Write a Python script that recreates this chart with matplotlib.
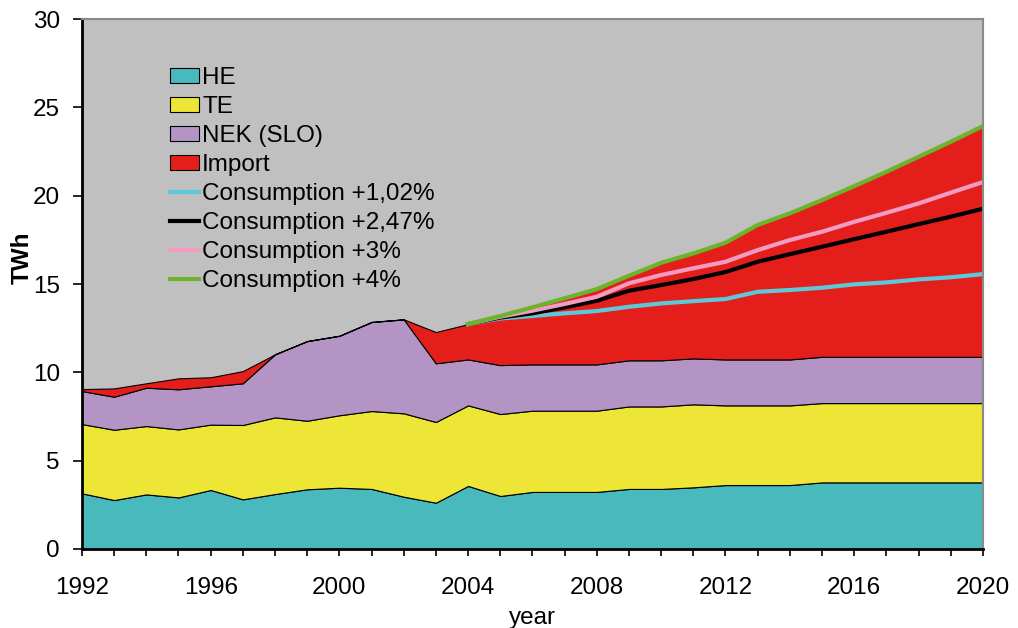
import matplotlib
matplotlib.use("Agg")
import matplotlib.pyplot as plt
import numpy as np

plt.rcParams['font.family'] = ['Liberation Sans', 'DejaVu Sans']

# data (TWh)
years = list(range(1992, 2021))
he = [3.15, 2.77, 3.09, 2.92, 3.34, 2.81, 3.11, 3.38, 3.47, 3.40, 2.96, 2.62, 3.57, 3.00, 3.23,
      3.23, 3.23, 3.40, 3.40, 3.49, 3.62, 3.62, 3.62, 3.77, 3.77, 3.77, 3.77, 3.77, 3.77]
te = [3.92, 3.98, 3.87, 3.85, 3.70, 4.21, 4.34, 3.88, 4.10, 4.41, 4.72, 4.57, 4.56, 4.64, 4.60,
      4.60, 4.60, 4.67, 4.67, 4.70, 4.51, 4.51, 4.51, 4.49, 4.49, 4.49, 4.49, 4.49, 4.49]
nek = [1.87, 1.87, 2.17, 2.27, 2.17, 2.36, 3.57, 4.51, 4.50, 5.04, 5.32, 3.32, 2.60, 2.77, 2.62,
       2.62, 2.62, 2.61, 2.61, 2.60, 2.60, 2.60, 2.60, 2.62, 2.62, 2.62, 2.62, 2.62, 2.62]
imp = [0.11, 0.47, 0.25, 0.62, 0.51, 0.69, 0.00, 0.00, 0.00, 0.00, 0.00, 1.77, 2.00, 2.78, 3.23,
       3.74, 4.26, 4.79, 5.52, 5.94, 6.61, 7.61, 8.27, 8.87, 9.66, 10.47, 11.32, 12.17, 13.06]

proj_years = list(range(2004, 2021))
cons_102 = [12.73, 13.05, 13.19, 13.34, 13.47, 13.71, 13.90, 14.03, 14.15, 14.56, 14.66, 14.79,
            14.98, 15.09, 15.26, 15.38, 15.56]
cons_247 = [12.73, 13.10, 13.34, 13.68, 14.05, 14.62, 14.94, 15.28, 15.68, 16.26, 16.69, 17.11,
            17.54, 17.96, 18.39, 18.81, 19.26]
cons_3 = [12.73, 13.15, 13.49, 13.87, 14.28, 15.04, 15.51, 15.89, 16.26, 16.92, 17.49, 17.96,
          18.52, 19.03, 19.56, 20.17, 20.77]
cons_4 = [12.73, 13.19, 13.68, 14.19, 14.71, 15.47, 16.20, 16.73, 17.34, 18.34, 19.00, 19.75,
          20.54, 21.35, 22.20, 23.05, 23.94]

fig = plt.figure(figsize=(10.18, 6.28), dpi=100)
ax = fig.add_axes([0.0805, 0.1258, 0.885, 0.8439])
ax.set_facecolor('#C0C0C0')

ax.stackplot(years, he, te, nek, imp,
             colors=['#48B9BD', '#EDE636', '#B394C4', '#E41F1B'],
             labels=['HE', 'TE', 'NEK (SLO)', 'Import'],
             edgecolor='black', linewidth=0.8)

ax.plot(proj_years, cons_102, color='#5EC8D8', lw=3, label='Consumption +1,02%')
ax.plot(proj_years, cons_247, color='black', lw=3, label='Consumption +2,47%')
ax.plot(proj_years, cons_3, color='#F39BC2', lw=3, label='Consumption +3%')
ax.plot(proj_years, cons_4, color='#6CB42C', lw=3, label='Consumption +4%')

ax.set_xlim(1992, 2020)
ax.set_ylim(0, 30)
ax.set_xticks(range(1992, 2021, 4))
ax.set_xticks(years, minor=True)
ax.set_yticks(range(0, 31, 5))
ax.tick_params(axis='both', which='both', direction='out', labelsize=17.5, color='black')
ax.tick_params(axis='x', which='both', length=5, width=1.2, pad=15)
ax.tick_params(axis='y', length=6.5, width=1.2, pad=9.4)

for side in ['left', 'bottom']:
    ax.spines[side].set_color('black')
    ax.spines[side].set_linewidth(2)
for side in ['top', 'right']:
    ax.spines[side].set_color('#8A8A8A')
    ax.spines[side].set_linewidth(1.5)

ax.set_xlabel('year', fontsize=17.5, labelpad=6)
ax.set_ylabel('TWh', fontsize=17.5, fontweight='bold')
ax.yaxis.set_label_coords(-0.054, 0.549)

leg = ax.legend(loc='upper left', bbox_to_anchor=(0.087, 0.928), frameon=False,
                fontsize=17.5, handlelength=1.2, handleheight=0.55, handletextpad=0.12,
                labelspacing=0.29, borderaxespad=0)

fig.savefig('out.png', dpi=100)
